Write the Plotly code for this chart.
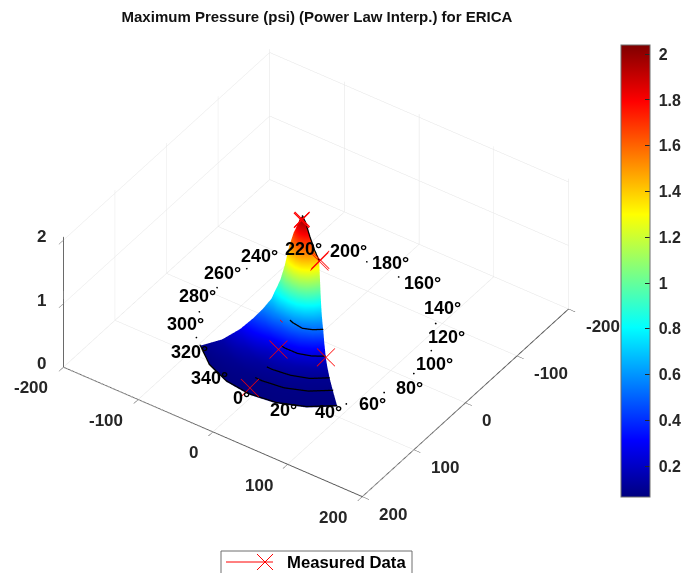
import numpy as np
import plotly.graph_objects as go

# ---- data ----
theta_deg = [-45, -30, -15, 0, 15, 30, 45]
radius = [20, 25, 30, 35, 40, 45, 50, 60, 70, 85, 105, 130]
pressure = [
    [1.84, 1.95, 2.04, 1.95, 1.75, 1.55, 1.38],
    [1.70, 1.72, 1.72, 1.62, 1.42, 1.20, 1.10],
    [1.50, 1.42, 1.35, 1.25, 1.08, 0.95, 0.85],
    [1.20, 1.12, 1.02, 0.92, 0.82, 0.74, 0.68],
    [0.98, 0.88, 0.78, 0.70, 0.64, 0.60, 0.58],
    [0.84, 0.72, 0.60, 0.54, 0.50, 0.50, 0.50],
    [0.70, 0.58, 0.46, 0.42, 0.40, 0.38, 0.38],
    [0.55, 0.40, 0.30, 0.26, 0.24, 0.23, 0.22],
    [0.43, 0.30, 0.20, 0.18, 0.16, 0.15, 0.15],
    [0.28, 0.18, 0.13, 0.11, 0.11, 0.10, 0.10],
    [0.15, 0.11, 0.09, 0.08, 0.08, 0.08, 0.08],
    [0.09, 0.07, 0.07, 0.07, 0.07, 0.07, 0.07],
]
arc_radius = [45, 60, 85, 105]
arc_theta = [-5, 0, 15, 30, 45]
arc_pressure = [
    [0.58, 0.56, 0.52, 0.52, 0.52],
    [0.28, 0.27, 0.25, 0.24, 0.23],
    [0.12, 0.12, 0.12, 0.11, 0.11],
    [0.09, 0.09, 0.09, 0.09, 0.09],
]
meas_x = [120, 66, 42, 42, 14, 14, 21, 21]
meas_y = [-6, -5, 42, -7, 14, 15, -5, -4]
meas_z = [0.07, 0.28, 0.22, 0.42, 1.38, 1.41, 1.98, 2.0]
meas_in_front = [True, True, True, False, True, True, True, True]
speck_x = [76, 36, -10, -54, -96, -140, -142, -57, -11, 35, 74]
speck_y = [93, 116, 124, 117, 94, 14, -30, -132, -140, -132, -109]
angle_labels = list(range(0, 360, 20))
label_radius = 144
label_z = 0.12
xy_ticks = [-200, -100, 0, 100, 200]
z_ticks = [0, 1, 2]
cbar_ticks = [0.2, 0.4, 0.6, 0.8, 1, 1.2, 1.4, 1.6, 1.8, 2]

FONT = "Liberation Sans"
TXT = "#262626"
Z_TOP = 2.05
jet = [[0, "#00007f"], [0.125, "#0000ff"], [0.375, "#00ffff"], [0.625, "#ffff00"],
       [0.875, "#ff0000"], [1, "#7f0000"]]

th = np.radians(theta_deg)
R, T = np.meshgrid(radius, th, indexing="ij")
X = R * np.cos(T)
Y = R * np.sin(T)
Z = np.array(pressure)

fig = go.Figure()
fig.add_trace(go.Surface(
    x=X, y=Y, z=Z, surfacecolor=Z, cmin=0.065, cmax=2.04, colorscale=jet,
    lighting=dict(ambient=1, diffuse=0, specular=0, fresnel=0, roughness=1),
    showlegend=False, hoverinfo="skip",
    colorbar=dict(
        lenmode="pixels", len=452, thicknessmode="pixels", thickness=29,
        x=621 / 685, xanchor="left", y=1 - 45 / 573, yanchor="top",
        ticks="inside", ticklen=5, tickcolor="#262626", tickwidth=1,
        tickvals=cbar_ticks, ticktext=["\u00a0" + str(v) for v in cbar_ticks],
        tickfont=dict(family=FONT, size=16, color=TXT, weight="bold"),
        outlinecolor="#6e6e6e", outlinewidth=1, xpad=0, ypad=0,
    ),
))
# black measurement arcs
lx, ly, lz = [], [], []
for r, zs in zip(arc_radius, arc_pressure):
    a = np.radians(arc_theta)
    lx += list(r * np.cos(a)) + [None]
    ly += list(r * np.sin(a)) + [None]
    lz += [v + 0.015 for v in zs] + [None]
# rim and inner edge
lx += list(X[-1]) + [None] + list(X[0][2:])
ly += list(Y[-1]) + [None] + list(Y[0][2:])
lz += list(Z[-1] + 0.015) + [None] + list(Z[0][2:] + 0.015)
fig.add_trace(go.Scatter3d(x=lx, y=ly, z=lz, mode="lines", line=dict(color="black", width=2.5),
                           showlegend=False, hoverinfo="skip"))

annots = []
# measured data: thin crosses kept in the screen plane
h = 9
right = np.array([-0.569, 0.822]) * h / 0.909
dz = h / 64
toward_viewer = np.array([22.0, 15.5, 0.243])  # no change on screen, only in depth
cx, cy, cz = [], [], []
for x0, y0, z0, front in zip(meas_x, meas_y, meas_z, meas_in_front):
    if z0 + dz > Z_TOP or (front and z0 + toward_viewer[2] + dz > Z_TOP):
        # would be clipped by the top of the axes box: drawn as four arms on top of the scene
        for sx in (-9, 9):
            for sy in (-9, 9):
                annots.append(dict(x=x0, y=y0, z=z0, text="", showarrow=True, arrowhead=0,
                                   arrowwidth=1.2, arrowcolor="red", ax=sx, ay=sy, standoff=0))
        continue
    if front:
        x0, y0, z0 = x0 + toward_viewer[0], y0 + toward_viewer[1], z0 + toward_viewer[2]
    cx += [x0 - right[0], x0 + right[0], None, x0 - right[0], x0 + right[0], None]
    cy += [y0 - right[1], y0 + right[1], None, y0 - right[1], y0 + right[1], None]
    cz += [z0 - dz, z0 + dz, None, z0 + dz, z0 - dz, None]
fig.add_trace(go.Scatter3d(x=cx, y=cy, z=cz, mode="lines", line=dict(color="red", width=1.5),
                           showlegend=False, hoverinfo="skip"))
fig.add_trace(go.Scatter3d(x=speck_x, y=speck_y, z=[0] * len(speck_x), mode="markers",
                           marker=dict(size=1, color="black"), showlegend=False, hoverinfo="skip"))

for a in angle_labels:
    t = np.radians(a)
    annots.append(dict(x=label_radius * np.cos(t), y=label_radius * np.sin(t), z=label_z,
                       text=f"{a}°", showarrow=False,
                       font=dict(family=FONT, size=18, color="black", weight="bold")))
tick_font = dict(family=FONT, size=17, color=TXT, weight="bold")
for v in xy_ticks:
    annots.append(dict(x=v, y=200, z=0, text=str(v), showarrow=False, xanchor="left",
                       xshift=15, yshift=-18, font=tick_font))
    annots.append(dict(x=200, y=v, z=0, text=str(v), showarrow=False, xanchor="right",
                       xshift=-13, yshift=-21, font=tick_font))
for v in z_ticks:
    annots.append(dict(x=200, y=-200, z=v, text=str(v), showarrow=False, xanchor="right",
                       xshift=-15, yshift=3, font=tick_font))

axis = dict(showbackground=False, showgrid=True, gridcolor="#e4e4e4", gridwidth=1,
            zeroline=False, showspikes=False, showline=True, linecolor="#555555", linewidth=2,
            ticks="outside", ticklen=8, tickcolor="#555555", title=dict(text=""),
            showticklabels=False)


def py(px):
    return 1 - px / 573


def px_line(x0, y0, x1, y1, color, width):
    return dict(type="line", xref="paper", yref="paper", x0=x0 / 685, x1=x1 / 685, y0=py(y0), y1=py(y1),
                line=dict(color=color, width=width))


legend_shapes = [
    dict(type="rect", xref="paper", yref="paper", x0=221 / 685, x1=412 / 685, y0=py(580), y1=py(551),
         line=dict(color="#6e6e6e", width=1), fillcolor="white"),
    px_line(226, 562, 273, 562, "red", 1),
    px_line(257, 554, 273, 570, "red", 1),
    px_line(257, 570, 273, 554, "red", 1),
]

fig.update_layout(
    width=685, height=573, margin=dict(l=0, r=0, t=0, b=0, autoexpand=False),
    paper_bgcolor="white", plot_bgcolor="white",
    showlegend=False,
    title=dict(text="Maximum Pressure (psi) (Power Law Interp.) for ERICA",
               x=317 / 685, xanchor="center", y=1 - 17 / 573, yanchor="middle",
               font=dict(family=FONT, size=15, color="#111111", weight="bold")),
    shapes=legend_shapes,
    annotations=[dict(text="Measured Data", x=285 / 685, y=py(562), xref="paper", yref="paper",
                      xanchor="left", yanchor="middle", showarrow=False,
                      font=dict(family=FONT, size=16.7, color="black", weight="bold"))],
    scene=dict(
        domain=dict(x=[0, 632 / 685], y=[0.049, 0.999]),
        xaxis=dict(axis, range=[-200, 200], tickvals=xy_ticks),
        yaxis=dict(axis, range=[-200, 200], tickvals=xy_ticks),
        zaxis=dict(axis, range=[0, Z_TOP], tickvals=z_ticks),
        aspectmode="manual", aspectratio=dict(x=1.335, y=1.335, z=0.615),
        camera=dict(projection=dict(type="orthographic"),
                    eye=dict(x=1.0, y=0.69, z=0.98), up=dict(x=0, y=0, z=1),
                    center=dict(x=0, y=0, z=0)),
        annotations=annots,
    ),
)
fig.write_html("out.html", post_script="document.body.style.margin='0';",
               config=dict(displayModeBar=False))
